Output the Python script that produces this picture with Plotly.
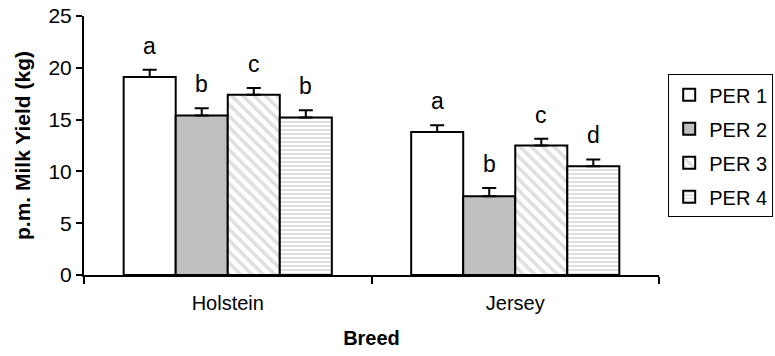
import plotly.graph_objects as go

breeds = ["Holstein", "Jersey"]
periods = ["PER 1", "PER 2", "PER 3", "PER 4"]

# mean p.m. milk yield (kg) per period, by breed
per1 = [19.1, 13.8]
per2 = [15.4, 7.6]
per3 = [17.4, 12.5]
per4 = [15.2, 10.5]

# standard errors (upper whisker only)
se1 = [0.7, 0.65]
se2 = [0.7, 0.8]
se3 = [0.65, 0.65]
se4 = [0.7, 0.65]

# significance letters
let1 = ["a", "a"]
let2 = ["b", "b"]
let3 = ["c", "c"]
let4 = ["b", "d"]

values = [per1, per2, per3, per4]
errors = [se1, se2, se3, se4]
letters = [let1, let2, let3, let4]

font_family = "Liberation Sans, Arial, sans-serif"
gray = "#c0c0c0"

markers = [
    dict(color="white", line=dict(color="black", width=2)),
    dict(color=gray, line=dict(color="black", width=2)),
    dict(color="white", line=dict(color="black", width=2),
         pattern=dict(shape="\\", fgcolor=gray, bgcolor="white", size=8, solidity=0.45)),
    dict(color="white", line=dict(color="black", width=2),
         pattern=dict(shape="-", fgcolor=gray, bgcolor="white", size=4, solidity=0.5)),
]

bargap = 0.276
fig = go.Figure()
for k, (name, vals, errs, mk) in enumerate(zip(periods, values, errors, markers)):
    fig.add_trace(go.Bar(
        name=name, x=breeds, y=vals, marker=mk, legendgroup=f"g{k}",
        error_y=dict(type="data", symmetric=False, array=errs,
                     arrayminus=[0] * len(errs), color="black",
                     thickness=2, width=7),
    ))

# letters above each whisker
n = len(periods)
bar_w = (1 - bargap) / n
for i, (vals, errs, labs) in enumerate(zip(values, errors, letters)):
    for j, (v, e, t) in enumerate(zip(vals, errs, labs)):
        fig.add_annotation(
            x=j + (i - (n - 1) / 2) * bar_w, y=v + e, text=t,
            showarrow=False, yanchor="bottom", yshift=9,
            font=dict(family=font_family, size=23, color="black"),
        )

fig.update_layout(
    width=775, height=356,
    margin=dict(l=84, r=116, t=16, b=81, autoexpand=False),
    paper_bgcolor="white", plot_bgcolor="white",
    barmode="group", bargap=bargap, bargroupgap=0,
    font=dict(family=font_family, color="black"),
    showlegend=True,
    legend=dict(
        x=1.016, y=0.775, xanchor="left", yanchor="top",
        bordercolor="black", borderwidth=1, bgcolor="white",
        font=dict(size=20), tracegroupgap=5, itemwidth=30,
    ),
    xaxis=dict(
        title=dict(text="<b>Breed</b>", font=dict(size=20), standoff=18),
        showline=True, linecolor="black", linewidth=2, automargin=False,
        ticks="outside", tickson="boundaries", ticklen=7, tickwidth=2,
        tickcolor="black", tickfont=dict(size=20), ticklabelstandoff=9,
    ),
    yaxis=dict(
        title=dict(text="<b>p.m. Milk Yield (kg)</b>", font=dict(size=21), standoff=12),
        range=[0, 25], dtick=5, showgrid=False, zeroline=False,
        showline=True, linecolor="black", linewidth=2, automargin=False,
        ticks="outside", ticklen=6, tickwidth=2, tickcolor="black",
        tickfont=dict(size=21),
    ),
)

fig.write_html("out.html")
